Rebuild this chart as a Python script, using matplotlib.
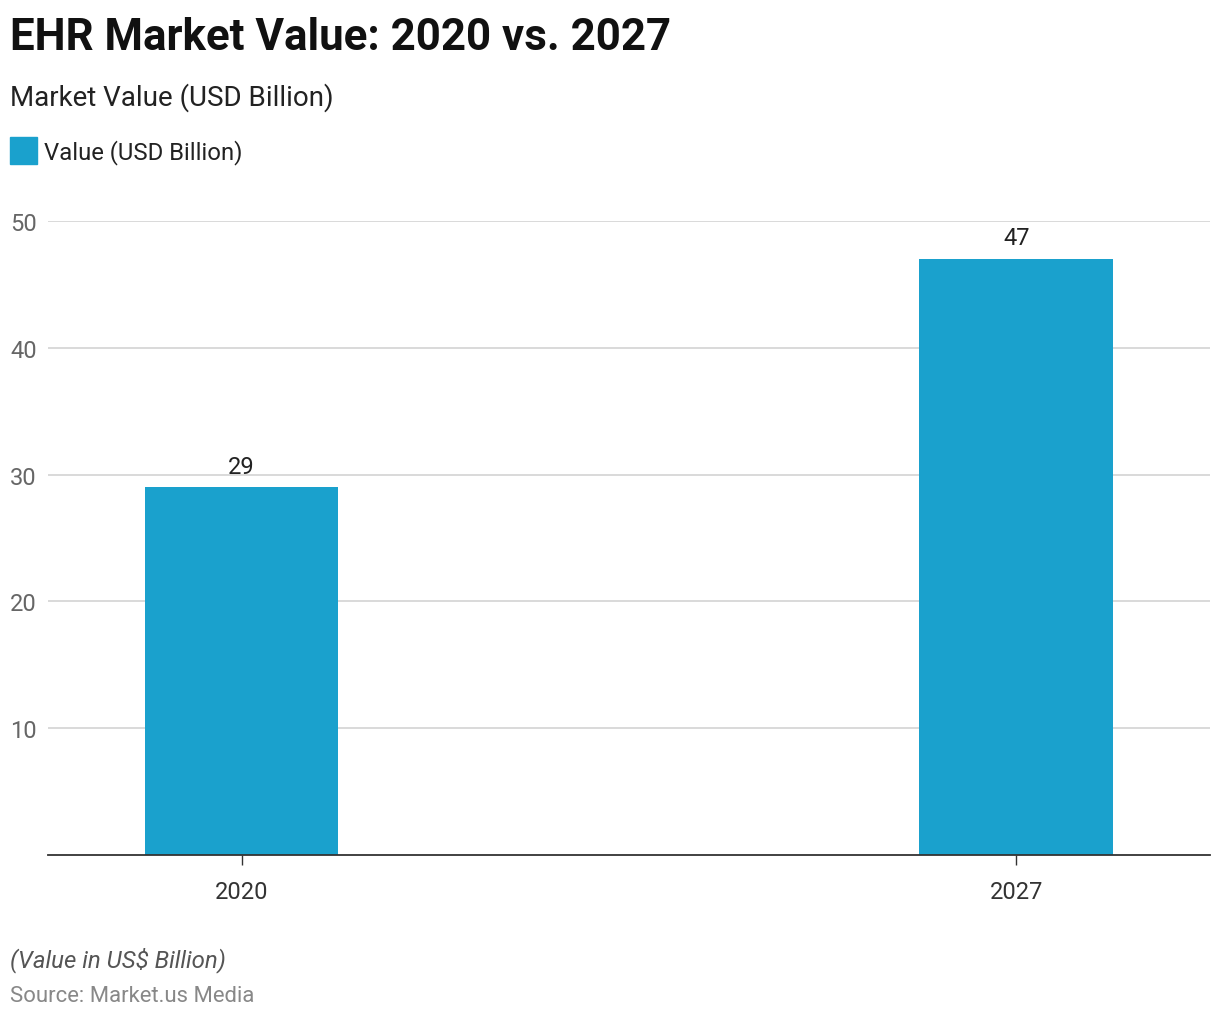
import matplotlib.pyplot as plt

# data
years = ['2020', '2027']
values = [29, 47]
yticks = [10, 20, 30, 40, 50]

plt.rcParams['font.family'] = ['Roboto', 'DejaVu Sans']

fig = plt.figure(figsize=(12.2, 10.2), dpi=100)
ax = fig.add_axes([0.0393, 1 - 856 / 1020, 0.9525, (856 - 222) / 1020])

bar_color = '#1aa1cd'
x = range(len(years))
bars = ax.bar(x, values, width=0.25, color=bar_color, zorder=3)
for b, v in zip(bars, values):
    ax.annotate(str(v), (b.get_x() + b.get_width() / 2, v), xytext=(0, 7),
                textcoords='offset points', ha='center', va='bottom',
                fontsize=17, color='#222222')

ax.set_xlim(-0.25, 1.25)
ax.set_ylim(0, 50)
ax.set_xticks(list(x))
ax.set_xticklabels(years, fontsize=17, color='#333333')
ax.set_yticks(yticks)
ax.set_yticklabels([str(t) for t in yticks], fontsize=17, color='#666666')
ax.tick_params(axis='y', length=0, pad=8)
ax.tick_params(axis='x', length=7, width=1, color='#333333', pad=11)
ax.grid(axis='y', color='#d9d9d9', linewidth=1.4, zorder=0)
for s in ['top', 'right', 'left']:
    ax.spines[s].set_visible(False)
ax.spines['bottom'].set_color('#333333')
ax.spines['bottom'].set_linewidth(1.3)
ax.spines['bottom'].set_zorder(4)

# titles
fig.text(0.008, 1 - 38 / 1020, 'EHR Market Value: 2020 vs. 2027', fontsize=31.6,
         fontweight='bold', color='#111111', va='center')
fig.text(0.008, 1 - 98 / 1020, 'Market Value (USD Billion)', fontsize=20,
         color='#222222', va='center')

# legend
fig.patches.append(plt.Rectangle((10 / 1220, 1 - 165 / 1020), 27 / 1220, 27 / 1020,
                                 transform=fig.transFigure, color=bar_color))
fig.text(44 / 1220, 1 - 153 / 1020, 'Value (USD Billion)', fontsize=17.2,
         color='#222222', va='center')

# footer
fig.text(0.008, 1 - 960 / 1020, '(Value in US$ Billion)', fontsize=17.3,
         style='italic', color='#555555', va='center')
fig.text(0.008, 1 - 997 / 1020, 'Source: Market.us Media', fontsize=15.9,
         color='#888888', va='center')

plt.savefig('out.png', dpi=100)
